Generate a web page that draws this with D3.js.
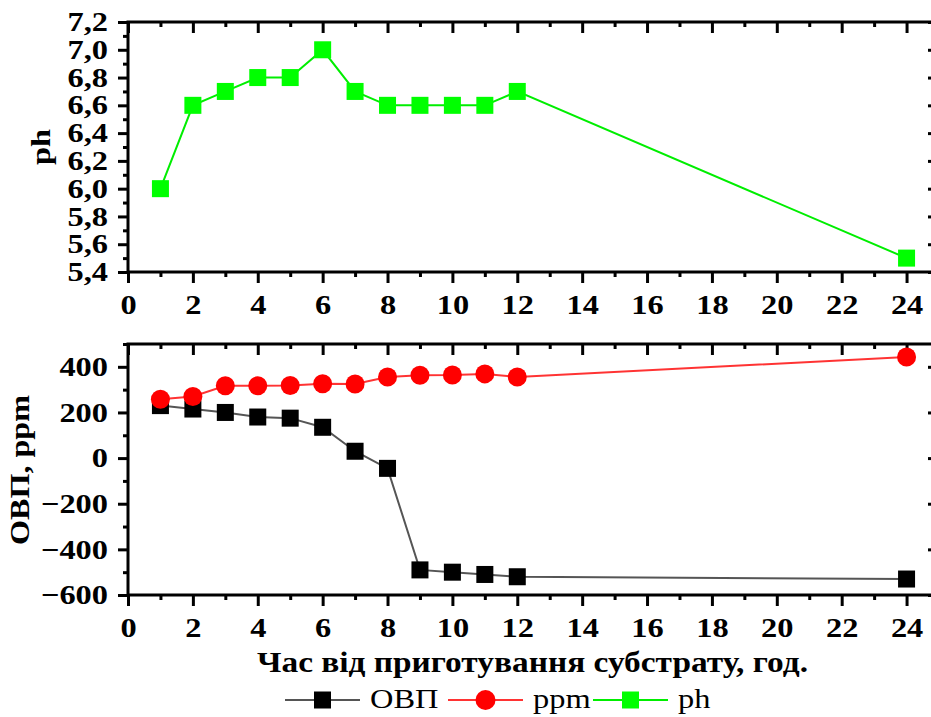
<!DOCTYPE html>
<html>
<head>
<script src="https://cdn.jsdelivr.net/npm/d3@7"></script>
</head>
<body style="margin:0">
<svg id="chart" width="931" height="717"></svg>
<script>
// ---- data ----
const hours = [1, 2, 3, 4, 5, 6, 7, 8, 9, 10, 11, 12, 24];
const phValues = [6.0, 6.6, 6.7, 6.8, 6.8, 7.0, 6.7, 6.6, 6.6, 6.6, 6.6, 6.7, 5.5];
const ovpValues = [230, 215, 200, 180, 175, 135, 30, -45, -490, -500, -510, -520, -530];
const ppmValues = [258, 270, 317, 317, 318, 326, 325, 355, 363, 364, 369, 355, 443];
const xTicks = [0, 2, 4, 6, 8, 10, 12, 14, 16, 18, 20, 22, 24];
const phTicks = [5.4, 5.6, 5.8, 6.0, 6.2, 6.4, 6.6, 6.8, 7.0, 7.2];
const bottomTicks = [-600, -400, -200, 0, 200, 400];
const xTitle = "Час від приготування субстрату, год.";
const phTitle = "ph";
const bottomTitle = "ОВП, ppm";
const legendNames = ["ОВП", "ppm", "ph"];

// ---- layout ----
const svg = d3.select("#chart");
const left = 128, right = 939;
const top1 = 22, bot1 = 272;
const top2 = 344, bot2 = 595;
const FONT = '"Liberation Serif"';
const STRETCH = 1.2;

const x = d3.scaleLinear().domain([0, 25]).range([left, right]);
const yPh = d3.scaleLinear().domain([5.4, 7.2]).range([bot1, top1]);
const yB = d3.scaleLinear().domain([-600, 500]).range([bot2, top2]);

const xMinor = d3.range(1, 25, 2);
const commaFmt = d => d3.format(".1f")(d).replace(".", ",");

function stretch(sel, k, target) {
  sel.each(function () {
    const w = this.getComputedTextLength();
    if (w > 0) {
      d3.select(this).attr("textLength", target || w * k).attr("lengthAdjust", "spacingAndGlyphs");
    }
  });
}

function styleAxis(g) {
  g.attr("font-family", FONT).attr("font-size", 27);
  g.select(".domain").remove();
  g.selectAll(".tick line").attr("stroke", "#000").attr("stroke-width", 3);
  const t = g.selectAll(".tick text")
    .attr("fill", "#000")
    .attr("font-family", FONT)
    .attr("font-weight", "bold")
    .attr("font-size", 27);
  stretch(t, STRETCH);
}

function panel(y, top, bot, majorTicks, minorTicks, fmt) {
  const g = svg.append("g");
  g.append("g").attr("transform", `translate(0,${bot})`)
    .call(d3.axisBottom(x).tickValues(xMinor).tickSize(5).tickFormat(""))
    .call(styleAxis);
  g.append("g").attr("transform", `translate(0,${bot})`)
    .call(d3.axisBottom(x).tickValues(xTicks).tickSize(11).tickPadding(12).tickFormat(d3.format("d")))
    .call(styleAxis);
  g.append("g").attr("transform", `translate(0,${top})`)
    .call(d3.axisBottom(x).tickValues(xMinor).tickSize(5).tickFormat(""))
    .call(styleAxis);
  g.append("g").attr("transform", `translate(0,${top})`)
    .call(d3.axisBottom(x).tickValues(xTicks).tickSize(11).tickFormat(""))
    .call(styleAxis);
  g.append("g").attr("transform", `translate(${left},0)`)
    .call(d3.axisLeft(y).tickValues(minorTicks).tickSize(5).tickFormat(""))
    .call(styleAxis);
  g.append("g").attr("transform", `translate(${left},0)`)
    .call(d3.axisLeft(y).tickValues(majorTicks).tickSize(10).tickPadding(10).tickFormat(fmt))
    .call(styleAxis);
  g.append("g").attr("transform", `translate(${right},0)`)
    .call(d3.axisLeft(y).tickValues(minorTicks).tickSize(5).tickFormat(""))
    .call(styleAxis);
  g.append("g").attr("transform", `translate(${right},0)`)
    .call(d3.axisLeft(y).tickValues(majorTicks).tickSize(11).tickFormat(""))
    .call(styleAxis);
  g.append("rect")
    .attr("x", left).attr("y", top)
    .attr("width", right - left).attr("height", bot - top)
    .attr("fill", "none").attr("stroke", "#000").attr("stroke-width", 3);
  return g;
}

const phMinor = d3.range(0, 19).map(i => +(5.4 + i * 0.1).toFixed(1)).filter(v => !phTicks.some(t => Math.abs(t - v) < 1e-9));
const bMinor = d3.range(-600, 501, 100).filter(v => !bottomTicks.includes(v));

panel(yPh, top1, bot1, phTicks, phMinor, commaFmt);
panel(yB, top2, bot2, bottomTicks, bMinor, d3.format("d"));

// ---- series ----
const MS = 17;
function drawSeries(yScale, values, lineColor, markColor, shape) {
  const pts = hours.map((h, i) => [h, values[i]]);
  svg.append("path")
    .datum(pts)
    .attr("fill", "none")
    .attr("stroke", lineColor)
    .attr("stroke-width", 2)
    .attr("d", d3.line().x(d => x(d[0])).y(d => yScale(d[1])));
  const m = svg.append("g");
  if (shape === "square") {
    m.selectAll("rect").data(pts).join("rect")
      .attr("x", d => x(d[0]) - MS / 2).attr("y", d => yScale(d[1]) - MS / 2)
      .attr("width", MS).attr("height", MS).attr("fill", markColor);
  } else {
    m.selectAll("circle").data(pts).join("circle")
      .attr("cx", d => x(d[0])).attr("cy", d => yScale(d[1]))
      .attr("r", 9.5).attr("fill", markColor);
  }
}
drawSeries(yPh, phValues, "#00ee00", "#00ff00", "square");
drawSeries(yB, ovpValues, "#555", "#000", "square");
drawSeries(yB, ppmValues, "#f33", "#ff0000", "circle");

// ---- titles ----
function title(t, tr, size, target) {
  const el = svg.append("text")
    .attr("transform", tr)
    .attr("text-anchor", "middle")
    .attr("font-family", FONT).attr("font-weight", "bold").attr("font-size", size)
    .attr("fill", "#000")
    .text(t);
  stretch(el, STRETCH, target);
  return el;
}
title(phTitle, `translate(50,147) rotate(-90)`, 27);
title(bottomTitle, `translate(29,470) rotate(-90)`, 27, 150);
title(xTitle, `translate(532.5,672)`, 29, 551);

// ---- legend ----
const legendItems = [
  { name: legendNames[0], line: "#555", mark: "#000", shape: "square", x0: 285, tx: 370 },
  { name: legendNames[1], line: "#f33", mark: "#ff0000", shape: "circle", x0: 448, tx: 533 },
  { name: legendNames[2], line: "#00ee00", mark: "#00ff00", shape: "square", x0: 593, tx: 678 }
];
const ly = 700;
const lg = svg.append("g");
legendItems.forEach(it => {
  lg.append("line").attr("x1", it.x0).attr("x2", it.x0 + 75).attr("y1", ly).attr("y2", ly)
    .attr("stroke", it.line).attr("stroke-width", 2);
  const cx = it.x0 + 37.5;
  if (it.shape === "square") {
    lg.append("rect").attr("x", cx - 8.5).attr("y", ly - 8.5).attr("width", 17).attr("height", 17).attr("fill", it.mark);
  } else {
    lg.append("circle").attr("cx", cx).attr("cy", ly).attr("r", 10).attr("fill", it.mark);
  }
  const t = lg.append("text").attr("x", it.tx).attr("y", ly + 8)
    .attr("font-family", FONT).attr("font-size", 27).attr("fill", "#000")
    .text(it.name);
  stretch(t, STRETCH);
});
</script>
</body>
</html>
